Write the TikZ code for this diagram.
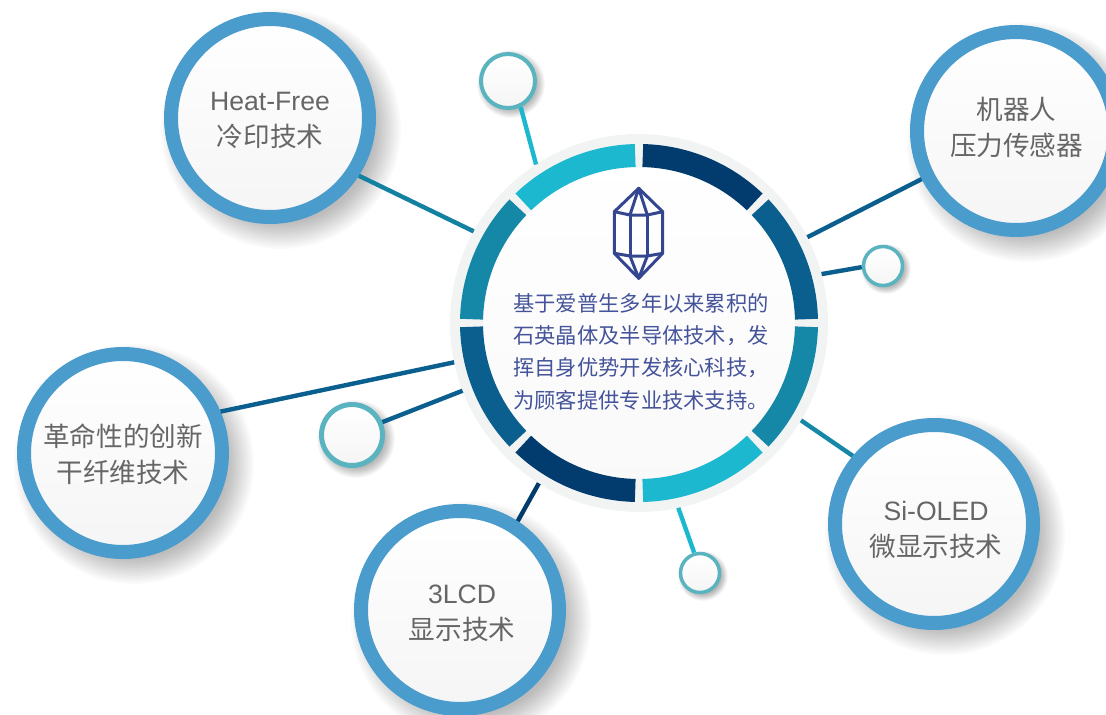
\documentclass[tikz,border=0pt]{standalone}
\usepackage{fontspec}
\setmainfont{Liberation Sans}
\newfontfamily\cjk{Noto Sans CJK SC}
\usetikzlibrary{calc}
\definecolor{ringblue}{HTML}{4A9CCD}
\definecolor{ringteal}{HTML}{5AB4C0}
\definecolor{segnavy}{HTML}{023C6E}
\definecolor{segblue}{HTML}{0A5F8E}
\definecolor{segteal}{HTML}{1488A6}
\definecolor{segcyan}{HTML}{1CB8CF}
\definecolor{hubring}{HTML}{F2F4F4}
\definecolor{hubtext}{HTML}{45549A}
\definecolor{labelgrey}{HTML}{666666}
\definecolor{crystal}{HTML}{33468F}
\definecolor{facelow}{HTML}{F5F5F5}
\definecolor{hublow}{HTML}{F9F9F9}
\tikzset{
  x=1pt,y=-1pt,
  softface/.style={circle,inner sep=0pt,top color=white,bottom color=facelow},
  bigdisc/.style={softface,draw=ringblue,line width=14pt,minimum size=198pt},
  disclabel/.style={text=labelgrey,align=center,inner sep=0pt,font=\fontsize{26.6}{36}\selectfont},
  tinydisc/.style={softface,draw=ringteal,line width=3.5pt,minimum size=39pt},
  middisc/.style={softface,draw=ringteal,line width=4pt,minimum size=54pt},
  widedisc/.style={softface,draw=ringteal,line width=5pt,minimum size=61pt},
  hubdisc/.style={circle,inner sep=0pt,draw=hubring,line width=33pt,minimum size=345pt,
    top color=white,bottom color=hublow},
  link/.style={line width=4.4pt},
  seg/.style={line width=23pt},
  crystalline/.style={draw=crystal,line width=3pt,line join=round},
  hubcopy/.style={text=hubtext,align=left,inner sep=0pt,font=\fontsize{21.3}{32.3}\selectfont\cjk},
}
% soft offset shadow: x, y, radius, offset, spread, strength
\newcommand{\softshadow}[6]{%
  \foreach \k in {0,...,13}{
    \fill[black,opacity=#6] (#1+#4,#2+#4) circle[radius={(#3+#5-\k*#5/7)*1pt}];
  }}
\begin{document}
\begin{tikzpicture}
\useasboundingbox (0,0) rectangle (1106,715);
\fill[white] (0,0) rectangle (1106,715);
% shadows
\softshadow{270}{118}{106}{11}{14}{0.02}
\softshadow{1016}{131}{106}{11}{14}{0.02}
\softshadow{123}{453}{106}{11}{14}{0.02}
\softshadow{460}{610}{106}{11}{14}{0.02}
\softshadow{934}{524}{106}{11}{14}{0.02}
\softshadow{508}{81}{29}{3}{5}{0.022}
\softshadow{883}{266}{21}{3}{4}{0.022}
\softshadow{352}{435}{33}{4}{6}{0.022}
\softshadow{700}{573}{21}{3}{4}{0.022}
% nodes
\node[hubdisc] (hub) at (639,323) {};
\node[bigdisc] (heat) at (270,118) {};
\node[bigdisc] (robot) at (1016,131) {};
\node[bigdisc] (fiber) at (123,453) {};
\node[bigdisc] (lcd) at (460,610) {};
\node[bigdisc] (oled) at (934,524) {};
\node[middisc] (dotA) at (508,81) {};
\node[tinydisc] (dotB) at (883,266) {};
\node[widedisc] (dotC) at (352,435) {};
\node[tinydisc] (dotD) at (700,573) {};
\node[disclabel] (heatT) at (270,120) {Heat-Free\\{\cjk 冷印技术}};
\node[disclabel] (robotT) at (1016.5,127) {{\cjk 机器人}\\{\cjk 压力传感器}};
\node[disclabel] (fiberT) at (123,454) {{\cjk 革命性的创新}\\{\cjk 干纤维技术}};
\node[disclabel] (lcdT) at (462,613.5) {3LCD\\{\cjk 显示技术}};
\node[disclabel] (oledT) at (936,530) {Si-OLED\\{\cjk 微显示技术}};
% ring segments
\foreach \a/\b/\c in {46.3/88.7/segnavy,1.3/43.7/segblue,-43.7/-1.3/segteal,-88.7/-46.3/segcyan,
  -133.7/-91.3/segnavy,-178.7/-136.3/segblue,136.3/178.7/segteal,91.3/133.7/segcyan}{
  \draw[seg,draw=\c] (hub.center) ++(\a:167.5pt) arc[start angle=\a,end angle=\b,radius=167.5pt];
}
% connectors
\draw[link,draw=segteal!85!segblue] (heat.-33.7) -- (hub.151.8);
\draw[link,draw=segblue] (robot.-153.7) -- (hub.27.4);
\draw[link,draw=segblue] (dotB.183) -- (hub.15.9);
\draw[link,draw=segblue] (fiber.23.2) -- (hub.192.5);
\draw[link,draw=segblue] (dotC.23.6) -- (hub.-159.4);
\draw[link,draw=segnavy] (lcd.57.7) -- (hub.-122.1);
\draw[link,draw=segteal] (oled.140.4) -- (hub.-31.2);
\draw[link,draw=segcyan] (dotD.106.7) -- (hub.-78.2);
\draw[link,draw=segcyan] (dotA.-64.4) -- (hub.123);
% crystal icon
\draw[crystalline] (638.7,188.3) -- (662.7,211.7) -- (662.7,253.3) -- (638.7,278.3)
  -- (614.3,253.3) -- (614.3,211.7) -- cycle;
\draw[crystalline] (614.3,211.7) -- (630,215) -- (647.3,215) -- (662.7,211.7);
\draw[crystalline] (614.3,253.3) -- (630,256) -- (647.3,256) -- (662.7,253.3);
\draw[crystalline] (630,215) -- (630,256) (647.3,215) -- (647.3,256);
\draw[crystalline] (630,215) -- (638.7,188.3) -- (647.3,215);
\draw[crystalline] (630,256) -- (638.7,278.3) -- (647.3,256);
% text
\node[hubcopy] (copy) at (641,351.5) {基于爱普生多年以来累积的\\石英晶体及半导体技术，发\\挥自身优势开发核心科技，\\为顾客提供专业技术支持。};
\end{tikzpicture}
\end{document}
